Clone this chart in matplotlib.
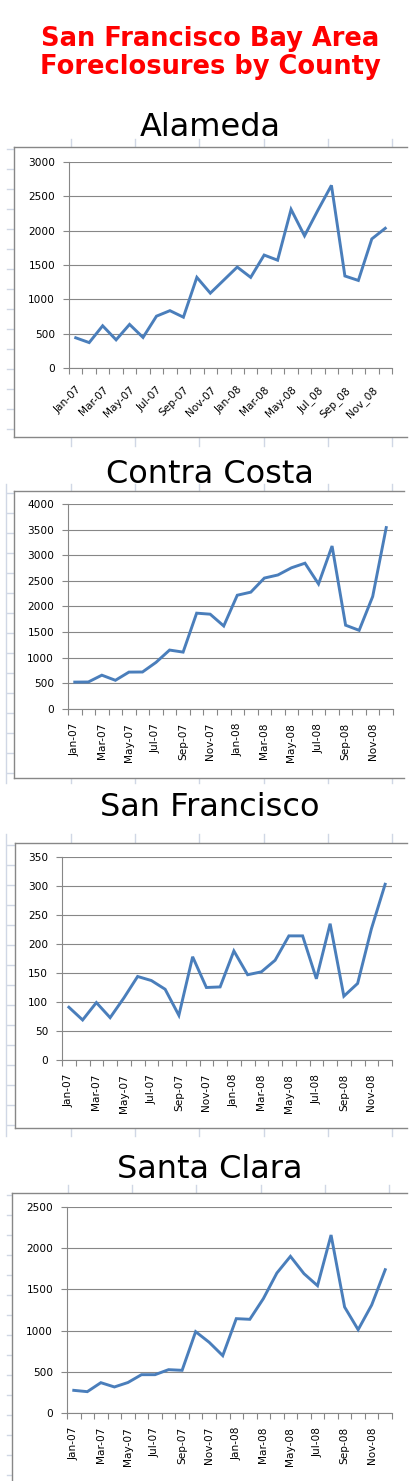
import numpy as np
import matplotlib.pyplot as plt
from matplotlib.lines import Line2D
from matplotlib.patches import Rectangle

# Data (monthly foreclosures, Jan 2007 - Dec 2008)

months = ['Jan-07', 'Feb-07', 'Mar-07', 'Apr-07', 'May-07', 'Jun-07',
          'Jul-07', 'Aug-07', 'Sep-07', 'Oct-07', 'Nov-07', 'Dec-07',
          'Jan-08', 'Feb-08', 'Mar-08', 'Apr-08', 'May-08', 'Jun-08',
          'Jul-08', 'Aug-08', 'Sep-08', 'Oct-08', 'Nov-08', 'Dec-08']
# the Alameda sheet has underscores in the last three labels
months_alameda = months[:18] + ['Jul_08', 'Aug_08', 'Sep_08', 'Oct_08', 'Nov_08', 'Dec_08']

alameda = [440, 370, 615, 410, 635, 445, 755, 835, 740, 1320, 1090, 1280,
           1470, 1320, 1645, 1570, 2310, 1925, 2300, 2660, 1340, 1275, 1880, 2035]
contra_costa = [525, 527, 660, 560, 720, 722, 910, 1150, 1110, 1870, 1850, 1620,
                2220, 2280, 2555, 2615, 2755, 2845, 2440, 3180, 1635, 1535, 2195, 3540]
san_francisco = [91, 69, 99, 73, 107, 144, 137, 122, 77, 178, 125, 126,
                 188, 147, 152, 172, 214, 214, 140, 235, 110, 132, 226, 303]
santa_clara = [275, 259, 368, 316, 370, 465, 465, 526, 518, 987, 858, 696,
               1145, 1137, 1388, 1699, 1901, 1691, 1545, 2160, 1286, 1011, 1311, 1739]

W, H = 420, 1481
LINE_BLUE = '#4a7ebb'
AXIS_GRAY = '#878787'
SHEET_GRID = '#d0d7e5'

fig = plt.figure(figsize=(W / 100, H / 100), dpi=100)
fig.patch.set_facecolor('white')

# background axes in pixel coordinates for the spreadsheet bits and frames
bg = fig.add_axes([0, 0, 1, 1])
bg.set_xlim(0, W)
bg.set_ylim(H, 0)
bg.axis('off')


def px_rect(left, top, right, bottom):
    return [left / W, 1 - bottom / H, (right - left) / W, (bottom - top) / H]


def sheet_frame(left, top, bottom, col0, above, below, left_line=False, right=407):
    # spreadsheet grid showing around the chart object
    y0, y1 = top - above, bottom + below
    for cx in np.arange(col0, right, 64.2):
        bg.add_line(Line2D([cx, cx], [y0, y1], color=SHEET_GRID, lw=1))
    for ry in np.arange(top + 2, y1, 20):
        bg.add_line(Line2D([7, left], [ry, ry], color=SHEET_GRID, lw=1))
    if left_line:
        bg.add_line(Line2D([6, 6], [y0, y1], color=SHEET_GRID, lw=1))
    # white chart area with gray border (right side is cut off)
    bg.add_patch(Rectangle((left, top), right - left, bottom - top,
                           facecolor='white', edgecolor='none', zorder=2))
    for xs, ys in [([left, right], [top, top]), ([left, right], [bottom, bottom]),
                   ([left, left], [top, bottom])]:
        bg.add_line(Line2D(xs, ys, color=AXIS_GRAY, lw=1, zorder=3))


def county_chart(name, values, labels, ymax, ystep, plot_box, title_base, rot):
    ax = fig.add_axes(px_rect(*plot_box))
    x = np.arange(len(values)) + 0.5
    ax.plot(x, values, color=LINE_BLUE, lw=2.1, solid_joinstyle='miter')
    ax.set_xlim(0, len(values))
    ax.set_ylim(0, ymax)
    ax.set_yticks(np.arange(0, ymax + 1, ystep))
    ax.yaxis.grid(True, color=AXIS_GRAY, lw=0.8)
    ax.set_axisbelow(True)
    ax.set_xticks(np.arange(0, len(values) + 1), minor=False)
    ax.set_xticks(x[::2], minor=True)
    ax.set_xticklabels([])
    ax.set_xticklabels(labels[::2], minor=True)
    for s in ['top', 'right']:
        ax.spines[s].set_visible(False)
    for s in ['left', 'bottom']:
        ax.spines[s].set_color(AXIS_GRAY)
        ax.spines[s].set_linewidth(0.8)
    ax.tick_params(axis='y', length=4, width=0.8, color=AXIS_GRAY, pad=6,
                   labelsize=7.6, labelcolor='black')
    ax.tick_params(axis='x', which='major', length=4, width=0.8, color=AXIS_GRAY)
    ax.tick_params(axis='x', which='minor', length=0, labelsize=7.6,
                   pad=12 if rot == 45 else 10)
    for lab in ax.get_xticklabels(minor=True):
        if rot == 45:
            lab.set_rotation(45)
            lab.set_ha('right')
            lab.set_va('top')
            lab.set_rotation_mode('anchor')
        else:
            lab.set_rotation(90)
            lab.set_ha('center')
            lab.set_va('top')
    bg.text(W / 2, title_base, name, fontsize=23, ha='center', va='baseline', color='black')
    return ax


# main heading
bg.text(W / 2, 46, 'San Francisco Bay Area', fontsize=18.5, fontweight='bold',
        color='#ff0000', ha='center', va='baseline')
bg.text(W / 2, 74, 'Foreclosures by County', fontsize=18.5, fontweight='bold',
        color='#ff0000', ha='center', va='baseline')

# Alameda
sheet_frame(14, 147, 437, 71, 8, 9)
county_chart('Alameda', alameda, months_alameda, 3000, 500, (69, 162, 392, 368), 136, 45)

# Contra Costa
sheet_frame(14, 491, 778, 71, 7, 5, left_line=True, right=404)
county_chart('Contra Costa', contra_costa, months, 4000, 500, (68, 504, 393, 709), 483, 90)

# San Francisco
sheet_frame(15, 843, 1128, 71, 9, 8, left_line=True)
county_chart('San Francisco', san_francisco, months, 350, 50, (62, 857, 392, 1060), 816, 90)

# Santa Clara
sheet_frame(12, 1193, 1500, 68, 8, 0)
county_chart('Santa Clara', santa_clara, months, 2500, 500, (67, 1207, 392, 1413), 1178, 90)

plt.savefig('out.png', dpi=100, facecolor='white')
